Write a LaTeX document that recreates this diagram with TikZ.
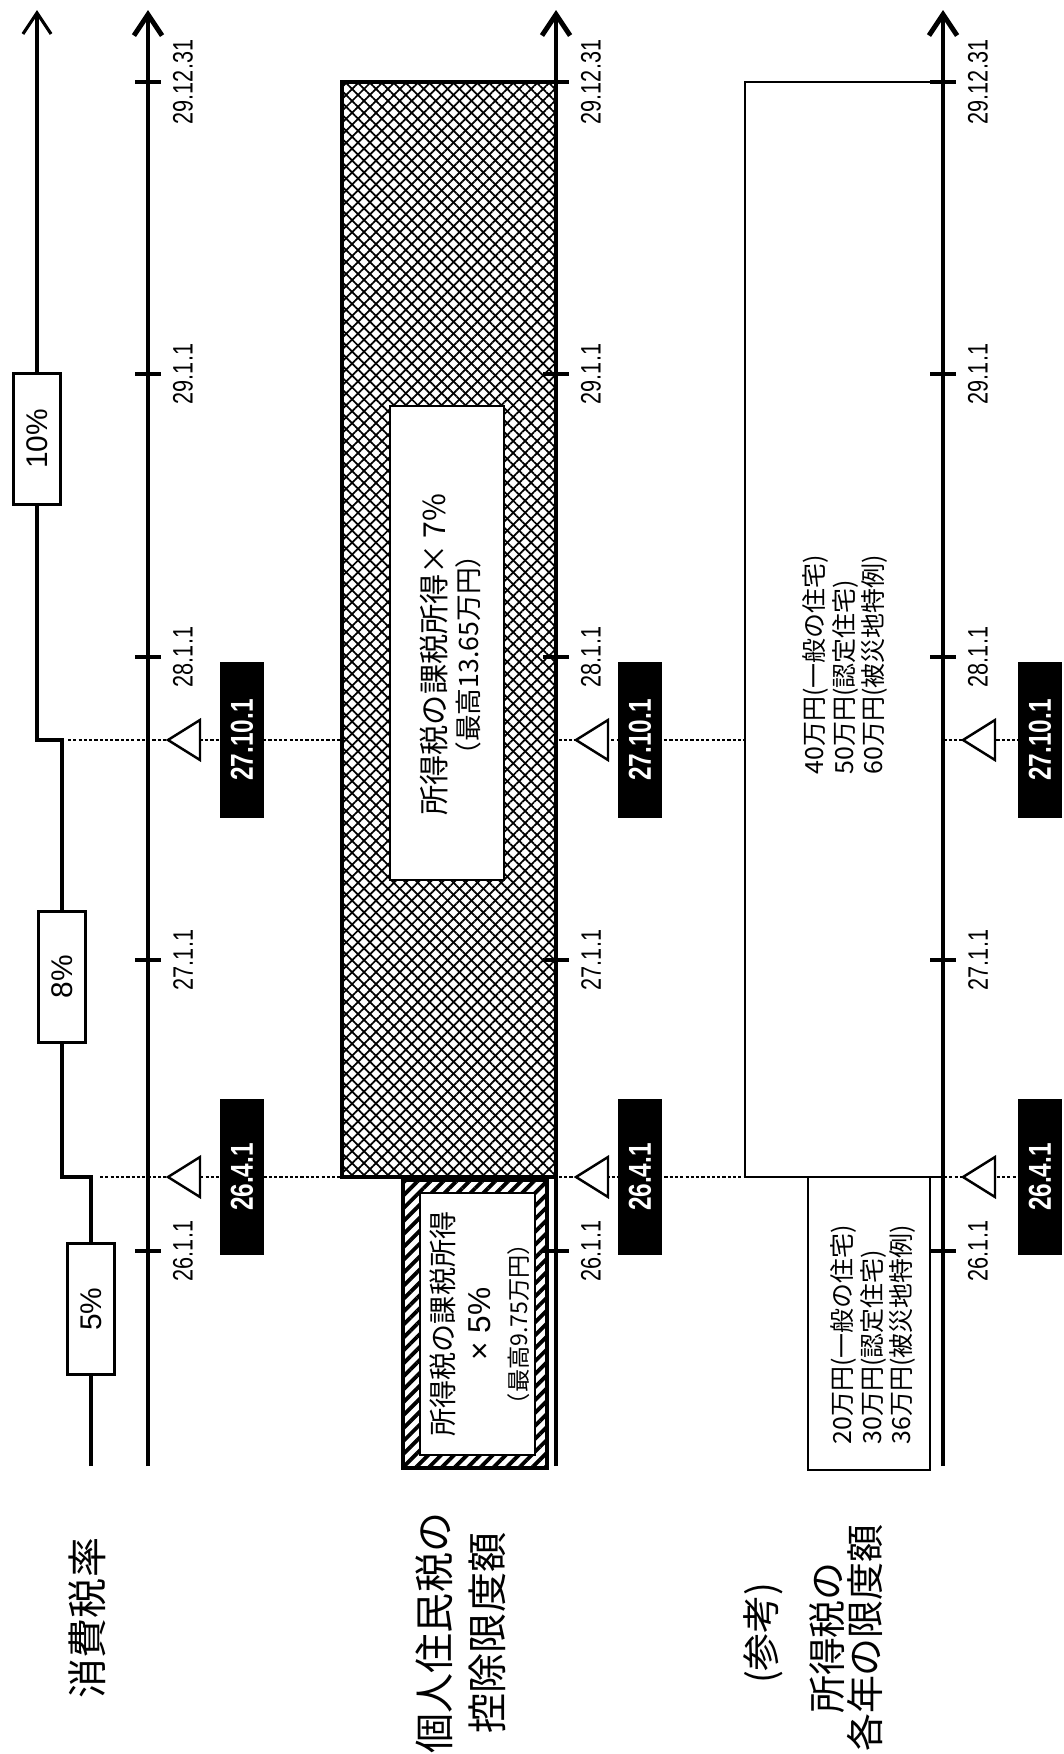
\documentclass[tikz,border=0pt]{standalone}
\usepackage{fontspec}
\setmainfont{Liberation Sans}
\newfontfamily\jpfont{Noto Sans CJK JP}
\newfontfamily\narrowfont[FakeStretch=0.77]{Liberation Sans}
\usepackage{tikz}
\usetikzlibrary{arrows.meta, patterns.meta}

\begin{document}
\begin{tikzpicture}[x=0.01cm, y=-0.01cm,
    axisline/.style={line width=1.4pt},
    rateline/.style={line width=0.9pt},
    ratebox/.style={draw, line width=0.7pt, fill=white, rotate=90, minimum width=1.31cm, minimum height=0.47cm, inner sep=0pt, font=\fontsize{8.5}{10}\selectfont},
    ticklab/.style={rotate=90, inner sep=0pt, font=\narrowfont\fontsize{8}{9}\selectfont},
    datebox/.style={fill=black, text=white, rotate=90, minimum width=1.55cm, minimum height=0.44cm, inner sep=0pt, font=\narrowfont\bfseries\fontsize{9}{10}\selectfont},
    dateline/.style={line width=0.6pt, dash pattern=on 0.9pt off 0.6pt},
    tri/.style={draw, fill=white, line width=0.7pt},
    boxtext/.style={rotate=90, inner sep=0pt, align=left, font=\jpfont\fontsize{7.1}{8.5}\selectfont},
    sidelab/.style={rotate=90, inner sep=0pt, align=center, font=\jpfont\fontsize{11.4}{15}\selectfont},
    >={Straight Barb[length=6pt, width=8pt]}
]
    \useasboundingbox (0,0) rectangle (1064,1754);

    % dotted lines at the two dates
    \draw[dateline] (68,740) -- (1040,740);
    \draw[dateline] (100,1177) -- (1040,1177);

    % consumption tax rate
    \draw[rateline, ->] (91,1466) |- (62,1177) |- (37,740) -- (37,10);
    \node[ratebox] (rate5) at (91,1309) {5\%};
    \node[ratebox] (rate8) at (62,977) {8\%};
    \node[ratebox] (rate10) at (37,439) {10\%};

    % resident tax: crosshatched part
    \fill[white] (342,82) rectangle (556,1177);
    \fill[pattern={Lines[angle=45, distance=2.4pt, line width=0.5pt]}] (342,82) rectangle (556,1177);
    \fill[pattern={Lines[angle=-45, distance=2.4pt, line width=0.5pt]}] (342,82) rectangle (556,1177);
    \draw[line width=0.9pt] (342,82) rectangle (556,1177);
    \draw[line width=0.6pt, fill=white] (390,406) rectangle (504,880);
    \node[rotate=90, inner sep=0pt, align=center, font=\jpfont\fontsize{8.6}{9.4}\selectfont] (seven) at (451,655)
        {所得税の課税所得×\,7\%\\{\fontsize{7.6}{9.4}\selectfont （最高13.65万円）}};

    % resident tax: striped part
    \fill[white] (403,1180) rectangle (547,1468);
    \fill[even odd rule, pattern={Lines[angle=45, distance=2.6pt, line width=1.1pt]}] (403,1180) rectangle (547,1468) (420,1193) rectangle (535,1455);
    \draw[line width=0.9pt] (403,1180) rectangle (547,1468);
    \draw[line width=0.6pt] (420,1193) rectangle (535,1455);
    \node[rotate=90, inner sep=0pt, align=center, font=\jpfont\fontsize{8}{10.6}\selectfont] (five) at (480,1324)
        {所得税の課税所得\\{\fontsize{9}{10.6}\selectfont\rmfamily × 5\%}\\{\fontsize{6.6}{10.6}\selectfont （最高9.75万円）}};

    % income tax limits
    \draw[line width=0.6pt, fill=white] (745,82) rectangle (943,1177);
    \node[boxtext, anchor=west] (limnew) at (845,775)
        {40万円(一般の住宅)\\50万円(認定住宅)\\60万円(被災地特例)};
    \draw[line width=0.6pt, fill=white] (808,1177) rectangle (930,1470);
    \node[boxtext, anchor=west] (limold) at (873,1445)
        {20万円(一般の住宅)\\30万円(認定住宅)\\36万円(被災地特例)};

    % time axes
    \foreach \a in {148,556,943} {
        \draw[axisline, ->] (\a,1466) -- (\a,10);
        \foreach \y/\d in {82/29.12.31,374/29.1.1,657/28.1.1,960/27.1.1,1251/26.1.1} {
            \draw[axisline] (\a-13,\y) -- (\a+13,\y);
            \node[ticklab] (lab\a-\y) at (\a+35,\y) {\d};
        }
        \foreach \y in {740,1177}
            \draw[tri] (\a+20,\y) -- ++(32,-20) -- ++(0,40) -- cycle;
    }
    \foreach \b in {242,640,1040} {
        \node[datebox] (oct\b) at (\b,740) {27.10.1};
        \node[datebox] (apr\b) at (\b,1177) {26.4.1};
    }

    % row titles
    \node[sidelab] (rowrate) at (87,1618) {消費税率};
    \node[sidelab] (rowres) at (461,1633) {個人住民税の\\控除限度額};
    \node[sidelab, font=\jpfont\fontsize{10.8}{10.8}\selectfont] (rowref) at (763,1633) {(参考)};
    \node[sidelab, font=\jpfont\fontsize{10.8}{10.8}\selectfont] (rowinc) at (846,1638) {所得税の\\各年の限度額};
\end{tikzpicture}
\end{document}
